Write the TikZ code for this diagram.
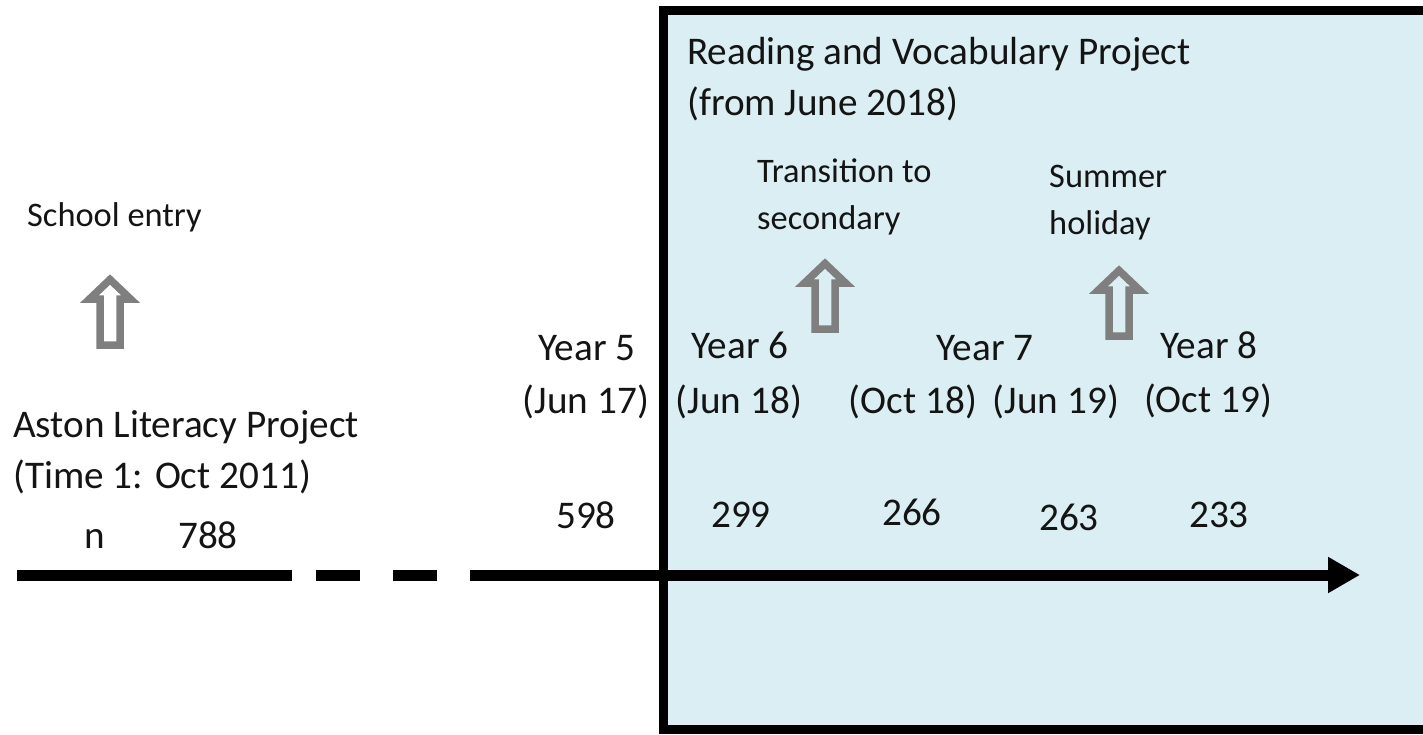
\documentclass[tikz,border=0pt]{standalone}
\usepackage{fontspec}
\setmainfont{Carlito}
\usetikzlibrary{arrows.meta}
\definecolor{boxfill}{HTML}{DAEEF3}
\definecolor{arrgrey}{HTML}{7F7F7F}
\definecolor{txt}{HTML}{141414}
\begin{document}
\begin{tikzpicture}[x=1pt,y=-1pt,
  big/.style={font=\fontsize{39.2}{46}\selectfont, inner sep=0pt, text=txt},
  small/.style={font=\fontsize{34.4}{40}\selectfont, inner sep=0pt, text=txt},
  bw/.style={anchor=base west},
  bc/.style={anchor=base},
  timeline/.style={line width=11pt},
  uparrow/.pic={\draw[arrgrey, line width=7.5pt, line join=miter]
     (0,5.5) -- (20.5,25) -- (10,25) -- (10,71) -- (-10,71) -- (-10,25) -- (-20.5,25) -- cycle;}
]
\useasboundingbox (0,0) rectangle (1423,734);
\clip (0,0) rectangle (1423,734);
% project box
\draw[line width=9pt, fill=boxfill] (663,10) rectangle (1460,729);

% texts
\node[big,bw] (rvp1) at (687,64) {Reading and Vocabulary Project};
\node[big,bw] (rvp2) at (687,115) {(from June 2018)};
\node[small,bw] (trans1) at (757,182) {Transition to};
\node[small,bw] (trans2) at (757,229) {secondary};
\node[small,bw] (sum1) at (1049,187) {Summer};
\node[small,bw] (sum2) at (1049,234) {holiday};
\node[small,bw] (school) at (27,226) {School entry};

\node[big,bw] (alp1) at (13,437) {Aston Literacy Project};
\node[big,bw] (alp2) at (13,488) {(Time 1: Oct 2011)};
\node[big,bc] (nlab) at (95,548) {n};
\node[big,bc] (n788) at (208,548) {788};

\node[big,bc] (y5) at (587,360) {Year 5};
\node[big,bc] (d5) at (586,413) {(Jun 17)};
\node[big,bc] (y6) at (740,358) {Year 6};
\node[big,bc] (d6) at (739,413) {(Jun 18)};
\node[big,bc] (y7) at (985,360) {Year 7};
\node[big,bc] (d7a) at (913,413) {(Oct 18)};
\node[big,bc] (d7b) at (1056,413) {(Jun 19)};
\node[big,bc] (y8) at (1209,358) {Year 8};
\node[big,bc] (d8) at (1208,412) {(Oct 19)};

\node[big,bc] (c598) at (586,528) {598};
\node[big,bc] (c299) at (741,527) {299};
\node[big,bc] (c266) at (912,525) {266};
\node[big,bc] (c263) at (1069,530) {263};
\node[big,bc] (c233) at (1219,527) {233};

% block arrows
\pic at (110,274) {uparrow};
\pic at (825,258) {uparrow};
\pic at (1119,265) {uparrow};

% timeline
\coordinate (t0) at (17,575);
\coordinate (t1) at (292,575);
\coordinate (d1a) at (316,575);
\coordinate (d1b) at (360,575);
\coordinate (d2a) at (393,575);
\coordinate (d2b) at (437,575);
\coordinate (t2) at (470,575);
\coordinate (tend) at (1360,575);
\draw[timeline] (t0) -- (t1);
\draw[timeline] (d1a) -- (d1b);
\draw[timeline] (d2a) -- (d2b);
\draw[timeline, -{Triangle[length=32pt,width=34pt]}] (t2) -- (tend);
\end{tikzpicture}
\end{document}
